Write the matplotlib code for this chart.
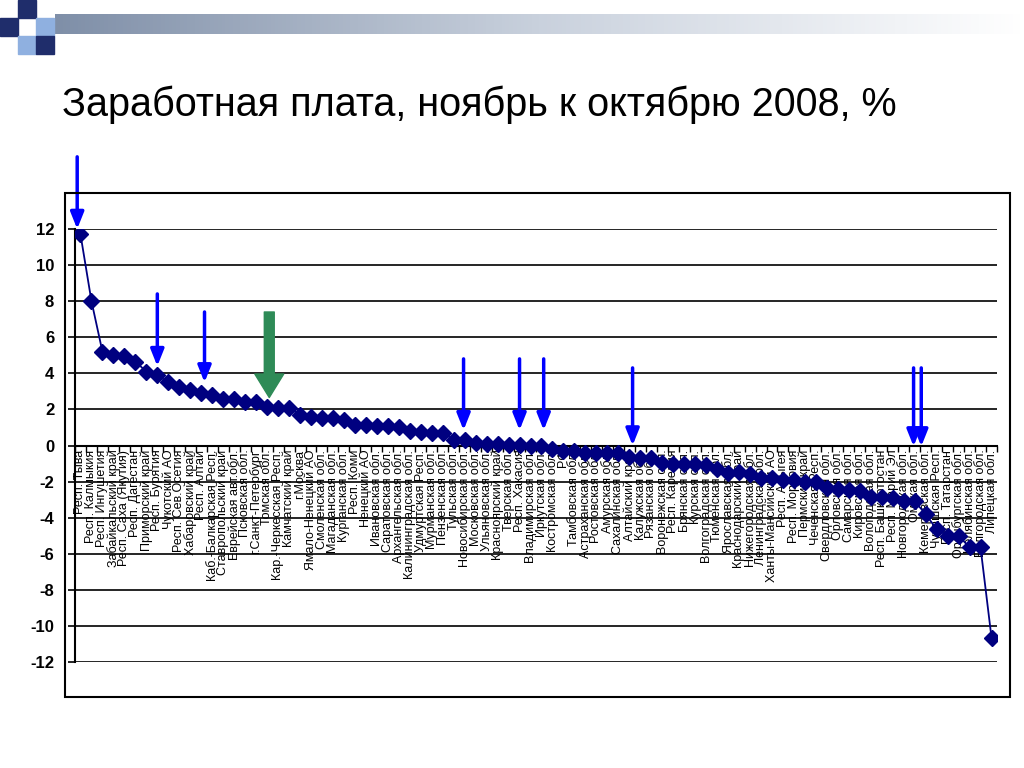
import numpy as np
import matplotlib
matplotlib.use('Agg')
import matplotlib.pyplot as plt
import matplotlib.patches as mpatches

plt.rcParams['font.family'] = ['Liberation Sans', 'DejaVu Sans']
plt.rcParams['axes.unicode_minus'] = False

regions = [
    'Респ. Тыва', 'Респ. Калмыкия', 'Респ. Ингушетия', 'Забайкальский край',
    'Респ. Саха (Якутия)', 'Респ. Дагестан', 'Приморский край', 'Респ. Бурятия',
    'Чукотский АО', 'Респ. Сев.Осетия', 'Хабаровский край', 'Респ. Алтай',
    'Каб.-Балкарская Респ.', 'Ставропольский край', 'Еврейская авт.обл.',
    'Псковская обл.', 'г.Санкт-Петербург', 'Томская обл.', 'Кар.-Черкесская Респ.',
    'Камчатский край', 'г.Москва', 'Ямало-Ненецкий АО', 'Смоленская обл.',
    'Магаданская обл.', 'Курганская обл.', 'Респ. Коми', 'Ненецкий АО',
    'Ивановская обл.', 'Саратовская обл.', 'Архангельская обл.',
    'Калининградская обл.', 'Удмуртская Респ.', 'Мурманская обл.',
    'Пензенская обл.', 'Тульская обл.', 'Новосибирская обл.', 'Московская обл.',
    'Ульяновская обл.', 'Красноярский край', 'Тверская обл.', 'Респ. Хакасия',
    'Владимирская обл.', 'Иркутская обл.', 'Костромская обл.', 'РФ',
    'Тамбовская обл.', 'Астраханская обл.', 'Ростовская обл.', 'Амурская обл.',
    'Сахалинская обл.', 'Алтайский край', 'Калужская обл.', 'Рязанская обл.',
    'Воронежская обл.', 'Респ. Карелия', 'Брянская обл.', 'Курская обл.',
    'Волгоградская обл.', 'Тюменская обл.', 'Ярославская обл.',
    'Краснодарский край', 'Нижегородская обл.', 'Ленинградская обл.',
    'Ханты-Мансийский АО', 'Респ. Адыгея', 'Респ. Мордовия', 'Пермский край',
    'Чеченская Респ.', 'Свердловская обл.', 'Орловская обл.', 'Самарская обл.',
    'Кировская обл.', 'Вологодская обл.', 'Респ. Башкортостан', 'Респ. Марий Эл',
    'Новгородская обл.', 'Омская обл.', 'Кемеровская обл.', 'Чувашская Респ.',
    'Респ. Татарстан', 'Оренбургская обл.', 'Челябинская обл.',
    'Белгородская обл.', 'Липецкая обл.',
]

wage_change = [
    11.7, 8.0, 5.2, 5.0, 4.95, 4.65, 4.1, 3.9, 3.5, 3.25, 3.1, 2.9,
    2.8, 2.6, 2.6, 2.4, 2.4, 2.15, 2.1, 2.1, 1.7, 1.6, 1.5, 1.5,
    1.4, 1.15, 1.15, 1.1, 1.1, 1.0, 0.78, 0.76, 0.72, 0.7, 0.33, 0.33,
    0.12, 0.1, 0.1, 0.05, 0.03, 0.0, 0.0, -0.2, -0.3, -0.32, -0.4, -0.4,
    -0.4, -0.42, -0.62, -0.7, -0.72, -0.95, -1.0, -1.05, -1.05, -1.1, -1.3,
    -1.5, -1.45, -1.6, -1.8, -1.82, -1.9, -1.9, -2.0, -2.05, -2.35, -2.4,
    -2.45, -2.5, -2.85, -2.85, -2.9, -3.1, -3.1, -3.8, -4.65, -5.0, -5.0,
    -5.65, -5.65, -10.65,
]

# blue arrows: (x position in categories, top, tip)
blue_arrows = [
    (-0.3, 16.0, 12.0),
    (7.0, 8.4, 4.4),
    (11.3, 7.4, 3.5),
    (34.9, 4.8, 0.85),
    (40.0, 4.8, 0.85),
    (42.2, 4.8, 0.85),
    (50.3, 4.3, 0.0),
    (75.9, 4.3, -0.05),
    (76.6, 4.3, -0.05),
]
green_arrow = (17.2, 7.4, 2.66)

fig = plt.figure(figsize=(10.24, 7.68), dpi=100)

# slide decoration
grad = np.linspace(0, 1, 256).reshape(1, -1)
bar = fig.add_axes([55 / 1024, 1 - 34 / 768, 969 / 1024, 20 / 768])
bar.imshow(grad, aspect='auto', cmap=matplotlib.colors.LinearSegmentedColormap.from_list(
    'g', ['#7f8fa8', '#c9d1dd', '#ffffff']))
bar.axis('off')
for (x0, y0, c) in [(18, 0, '#1f2d6b'), (0, 18, '#1f2d6b'), (36, 18, '#8fb0e0'),
                    (18, 36, '#8fb0e0'), (36, 36, '#1f2d6b')]:
    fig.patches.append(mpatches.Rectangle((x0 / 1024, 1 - (y0 + 18) / 768), 18 / 1024, 18 / 768,
                                          transform=fig.transFigure, color=c, zorder=0))

fig.text(62 / 1024, 1 - 105 / 768, 'Заработная плата, ноябрь к октябрю 2008, %',
         fontsize=28.5, va='center', ha='left')

fig.patches.append(mpatches.Rectangle((65 / 1024, 1 - 697 / 768), 945 / 1024, 504 / 768,
                                      transform=fig.transFigure, fill=False,
                                      edgecolor='black', lw=1.5))

ax = fig.add_axes([75 / 1024, 1 - 662 / 768, 922 / 1024, 433 / 768])
x = np.arange(len(regions))
ax.plot(x, wage_change, color='#000080', lw=1.3, marker='D', markersize=8.5,
        markerfacecolor='#000080', markeredgecolor='#000080', zorder=3)

ax.set_xlim(-0.5, len(regions) - 0.5)
ax.set_ylim(-12, 12)
ax.set_yticks(np.arange(-12, 13, 2))
ax.yaxis.grid(True, color='black', lw=1.2)
ax.set_axisbelow(True)
for lbl in ax.get_yticklabels():
    lbl.set_fontweight('bold')
ax.tick_params(axis='y', labelsize=12, direction='out', length=5, width=1.2, pad=10)

ax.spines['top'].set_visible(False)
ax.spines['right'].set_visible(False)
ax.spines['bottom'].set_position(('data', 0))
ax.spines['left'].set_linewidth(1.5)
ax.spines['bottom'].set_linewidth(1.5)

ax.set_xticks(x)
ax.set_xticklabels(regions, rotation=90, fontsize=9, va='top', ha='center')
ax.tick_params(axis='x', which='major', length=0, pad=3)
ax.set_xticks(np.arange(-0.5, len(regions), 1), minor=True)
ax.tick_params(axis='x', which='minor', length=4, direction='out', width=1)

for xa, top, tip in blue_arrows:
    ax.annotate('', xy=(xa, tip), xytext=(xa, top), annotation_clip=False,
                arrowprops=dict(arrowstyle='-|>,head_width=0.4,head_length=1.0',
                                color='#0000ff', lw=2.5, shrinkA=0, shrinkB=0), zorder=5)
xa, top, tip = green_arrow
ax.annotate('', xy=(xa, tip), xytext=(xa, top), annotation_clip=False,
            arrowprops=dict(arrowstyle='simple,head_width=1.6,head_length=1.3,tail_width=0.55',
                            color='#2e8b57', mutation_scale=13, shrinkA=0, shrinkB=0), zorder=5)

fig.savefig('out.png', dpi=100)
